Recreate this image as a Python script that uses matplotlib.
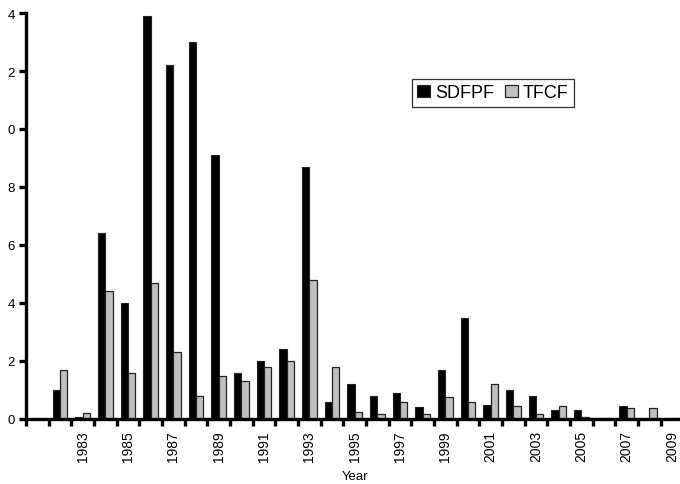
import matplotlib
matplotlib.use("Agg")
import matplotlib.pyplot as plt
import numpy as np

plt.rcParams['font.family'] = ['Liberation Sans', 'DejaVu Sans']

years = list(range(1981, 2010))
sdfpf = [0, 1.0, 0.07, 6.4, 4.0, 13.9, 12.2, 13.0, 9.1, 1.6, 2.0, 2.4, 8.7, 0.6,
         1.2, 0.8, 0.9, 0.4, 1.7, 3.5, 0.5, 1.0, 0.8, 0.3, 0.3, 0.05, 0.45, 0.05, 0.05]
tfcf = [0, 1.7, 0.2, 4.4, 1.6, 4.7, 2.3, 0.8, 1.5, 1.3, 1.8, 2.0, 4.8, 1.8,
        0.25, 0.17, 0.57, 0.17, 0.77, 0.57, 1.2, 0.45, 0.17, 0.45, 0.07, 0.03, 0.38, 0.38, 0.05]
label_years = list(range(1983, 2010, 2))
ytick_vals = [0, 2, 4, 6, 8, 10, 12, 14]
ytick_text = ['0', '2', '4', '6', '8', '0', '2', '4']

W, H = 680, 485
fig = plt.figure(figsize=(W / 100, H / 100), dpi=100)
ax = fig.add_axes([26 / W, (H - 420) / H, (683.4 - 26) / W, (420 - 14) / H])

x = np.arange(len(years))
bw = 0.325
ax.bar(x - bw / 2, sdfpf, width=bw, color='black', edgecolor='#222222', linewidth=0.8, zorder=2)
ax.bar(x + bw / 2, tfcf, width=bw, color='#c0c0c0', edgecolor='#222222', linewidth=0.9, zorder=2)

ax.set_xlim(-0.5, len(years) - 0.5)
ax.set_ylim(0, 14)

for s in ['top', 'right']:
    ax.spines[s].set_visible(False)
for s in ['left', 'bottom']:
    ax.spines[s].set_linewidth(2.4)
    ax.spines[s].set_zorder(3)

# x ticks: marks at category boundaries, labels at centres
ax.set_xticks(np.arange(len(years) + 1) - 0.5, minor=True)
ax.set_xticks([years.index(y) for y in label_years])
ax.set_xticklabels([str(y) for y in label_years], rotation=90, fontsize=10)
ax.tick_params(axis='x', which='major', length=0, pad=8)
ax.tick_params(axis='x', which='minor', length=5, width=2.4, direction='out')

ax.set_yticks(ytick_vals)
ax.set_yticklabels(ytick_text, fontsize=9.5)
ax.tick_params(axis='y', length=5, width=2.4, direction='out', pad=3)

ax.set_xlabel('Year', fontsize=9.5, labelpad=6.5)

leg = ax.legend(['SDFPF', 'TFCF'], ncol=2, fontsize=13,
                loc='upper left', bbox_to_anchor=(411.7 / W, 1 - 80 / H),
                bbox_transform=fig.transFigure, frameon=True, fancybox=False,
                edgecolor='black', handlelength=0.7, handleheight=0.7,
                handletextpad=0.3, columnspacing=0.6, borderpad=0.3,
                borderaxespad=0)
leg.get_frame().set_linewidth(0.9)

fig.savefig('out.png', dpi=100)
